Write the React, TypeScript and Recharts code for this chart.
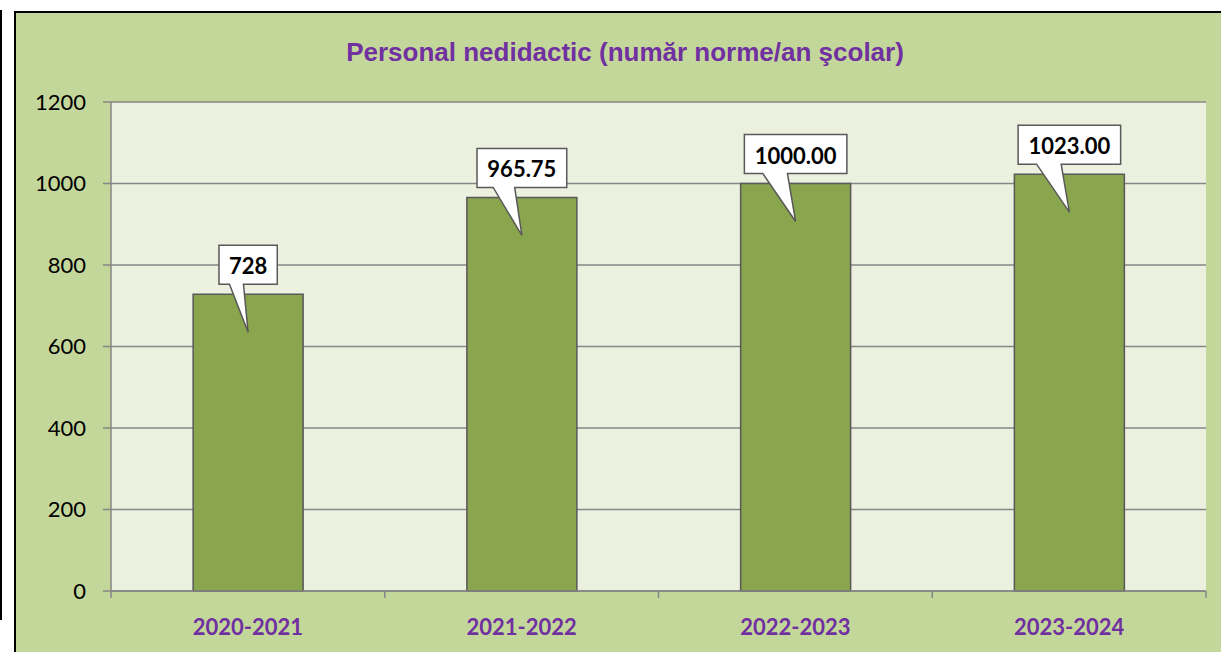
import React from "react";
import { BarChart, Bar, XAxis, YAxis, CartesianGrid, LabelList } from "recharts";

const categories = ["2020-2021", "2021-2022", "2022-2023", "2023-2024"];
const values = [728, 965.75, 1000, 1023];
const valueLabels = ["728", "965.75", "1000.00", "1023.00"];
const yTicks = [0, 200, 400, 600, 800, 1000, 1200];
const title = "Personal nedidactic (număr norme/an şcolar)";

const data = categories.map((c, i) => ({ name: c, value: values[i], label: valueLabels[i] }));

const PURPLE = "#7030a0";
const GRID = "#868686";
const LABEL_FONT = 22;

function textWidth(s: string, size: number) {
  let w = 0;
  for (const ch of s) w += ch === "." ? 0.27 : 0.58;
  return w * size;
}

const Callout = (props: any) => {
  const { x, y, width, index } = props;
  const text = valueLabels[index];
  const cx = x + width / 2;
  const w = textWidth(text, LABEL_FONT) + 20;
  const h = 39;
  const bottom = y - 10;
  const top = bottom - h;
  const left = cx - w / 2;
  const right = cx + w / 2;
  const bl = cx - 0.32 * w;
  const br = cx - 0.08 * w;
  const tipY = y + 38;
  const d = `M${left},${top} L${right},${top} L${right},${bottom} L${br},${bottom} L${cx},${tipY} L${bl},${bottom} L${left},${bottom} Z`;
  return (
    <g>
      <path d={d} fill="#ffffff" stroke="#595959" strokeWidth={1.5} strokeLinejoin="miter" />
      <text
        x={cx}
        y={top + h / 2 + 1}
        textAnchor="middle"
        dominantBaseline="central"
        fontFamily="Lato, 'Open Sans', sans-serif"
        fontWeight="bold"
        fontSize={LABEL_FONT}
        fill="#000000"
      >
        {text}
      </text>
    </g>
  );
};

const XTick = (props: any) => {
  const { x, y, payload, index, visibleTicksCount, width } = props;
  const off = payload && typeof payload.offset === "number" && payload.offset > 0
    ? payload.offset
    : width / visibleTicksCount / 2;
  const last = index === visibleTicksCount - 1;
  return (
    <g>
      <line x1={x - off} x2={x - off} y1={y} y2={y + 7} stroke={GRID} strokeWidth={1.5} />
      {last && <line x1={x + off} x2={x + off} y1={y} y2={y + 7} stroke={GRID} strokeWidth={1.5} />}
      <text
        x={x}
        y={y + 35}
        textAnchor="middle"
        dominantBaseline="central"
        fontFamily="Lato, 'Open Sans', sans-serif"
        fontWeight="bold"
        fontSize={22}
        fill={PURPLE}
      >
        {payload.value}
      </text>
    </g>
  );
};

export default function App() {
  return (
    <div style={{ position: "absolute", left: 0, top: 0, width: 1221, height: 652, overflow: "hidden", background: "#ffffff" }}>
      <div style={{ position: "absolute", left: 0, top: 10, width: 2, height: 610, background: "#000" }} />
      <div
        style={{
          position: "absolute",
          left: 14,
          top: 11,
          width: 1207,
          height: 641,
          borderLeft: "2px solid #000",
          borderTop: "2px solid #000",
          background: "#c4d79b",
        }}
      >
        <div
          style={{
            position: "absolute",
            left: 0,
            top: 23,
            width: 1218,
            textAlign: "center",
            fontFamily: "'Liberation Sans', Arial, sans-serif",
            fontWeight: "bold",
            fontSize: 26,
            lineHeight: "32px",
            color: PURPLE,
            whiteSpace: "nowrap",
          }}
        >
          {title}
        </div>
        <div style={{ position: "absolute", left: 0, top: 0 }}>
          <BarChart
            width={1205}
            height={639}
            data={data}
            margin={{ top: 89, right: 15, left: 0, bottom: 0 }}
            barCategoryGap="30%"
          >
            <CartesianGrid vertical={false} horizontal={true} stroke={GRID} strokeWidth={1.5} fill="#ebf1de" fillOpacity={1} />
            <XAxis
              dataKey="name"
              height={61}
              axisLine={{ stroke: GRID, strokeWidth: 1.5 }}
              tickLine={false}
              tickSize={0}
              tickMargin={0}
              tick={<XTick />}
              interval={0}
            />
            <YAxis
              width={95}
              domain={[0, 1200]}
              ticks={yTicks}
              interval={0}
              axisLine={{ stroke: GRID, strokeWidth: 1.5 }}
              tickLine={{ stroke: GRID, strokeWidth: 1.5 }}
              tickSize={8}
              tickMargin={17}
              tick={{ fill: "#000", fontSize: 22, fontFamily: "Lato, 'Open Sans', sans-serif" }}
            />
            <Bar dataKey="value" fill="#89a54e" stroke="#595959" strokeWidth={1.5} isAnimationActive={false}>
              <LabelList dataKey="value" content={<Callout />} />
            </Bar>
          </BarChart>
        </div>
      </div>
    </div>
  );
}
